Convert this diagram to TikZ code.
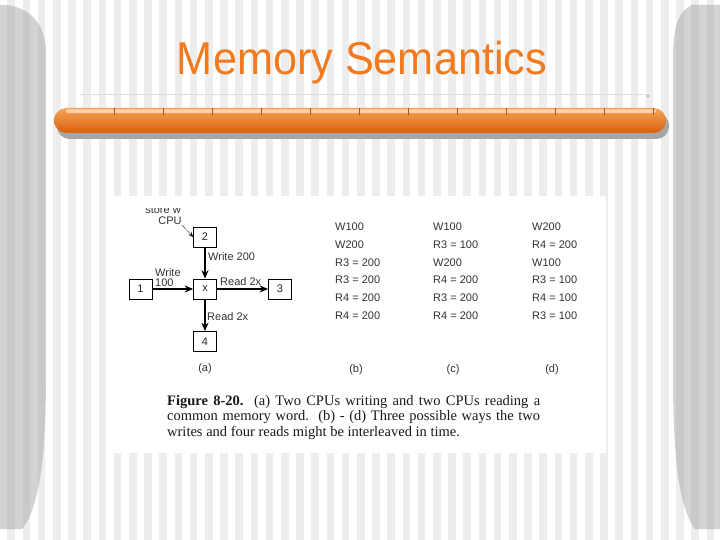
\documentclass[tikz,border=0pt]{standalone}
\usepackage{fontspec}
\setmainfont{Liberation Serif}
\setsansfont{Liberation Sans}
\usetikzlibrary{arrows.meta}
\definecolor{stripe}{HTML}{EDEDED}
\definecolor{curtain}{HTML}{D2D2D2}
\definecolor{curtainstripe}{HTML}{C9C9C9}
\definecolor{titleorange}{HTML}{F27A1E}
\definecolor{barmid}{HTML}{F37A1C}
\definecolor{bartop}{HTML}{F8A458}
\definecolor{barbot}{HTML}{D8600E}
\begin{document}
\begin{tikzpicture}[x=1pt,y=-1pt,
  box/.style={draw=black,line width=0.6pt,minimum width=23pt,minimum height=20pt,inner sep=0pt,font=\sffamily\fontsize{11}{12}\selectfont,text=black!85},
  lbl/.style={font=\sffamily\fontsize{11}{12}\selectfont,text=black!80,inner sep=0pt},
  col/.style={lbl,anchor=west},
  flow/.style={line width=1.8pt,-{Stealth[length=8.5pt,width=7pt]}},
  captext/.style={font=\fontsize{14.5}{15}\selectfont,text=black!90,inner sep=0pt,anchor=base west}]
\useasboundingbox (0,0) rectangle (720,540);
% background stripes
\fill[white] (0,0) rectangle (720,540);
\foreach \i in {0,...,47} \fill[stripe] ({7.4+15.2*\i},0) rectangle ++(7.6,540);
% left curtain
\fill[curtain] (0,5) .. controls (18,4) and (44,14) .. (46,50) -- (46,380) .. controls (46,470) and (36,512) .. (22,529) -- (0,529) -- cycle;
\begin{scope}
\clip (0,5) .. controls (18,4) and (44,14) .. (46,50) -- (46,380) .. controls (46,470) and (36,512) .. (22,529) -- (0,529) -- cycle;
\foreach \i in {0,...,3} \fill[curtainstripe] ({7.4+15.2*\i},0) rectangle ++(7.6,540);
\end{scope}
% right curtain
\fill[curtain] (720,5) -- (692,5) .. controls (677,12) and (673,30) .. (673,60) -- (673,380) .. controls (673,470) and (682,512) .. (695,529) -- (720,529) -- cycle;
\begin{scope}
\clip (720,5) -- (692,5) .. controls (677,12) and (673,30) .. (673,60) -- (673,380) .. controls (673,470) and (682,512) .. (695,529) -- (720,529) -- cycle;
\foreach \i in {44,...,47} \fill[curtainstripe] ({7.4+15.2*\i},0) rectangle ++(7.6,540);
\end{scope}
% title
\node[font=\sffamily\fontsize{46}{46}\selectfont,text=titleorange,anchor=base,inner sep=0pt] (title) at (362,75) {\scalebox{0.94}[1]{Memory Semantics}};
% thin rule and bar
\draw[black!13,line width=1pt] (80,95) -- (648,95);
\fill[black!55] (648,96) circle (0.9);
\fill[black!35,rounded corners=12.5pt] (57,113) rectangle (669,139);
\shade[top color=bartop,middle color=barmid,bottom color=barbot,rounded corners=12.5pt] (54,108) rectangle (666,133);
\fill[white,opacity=0.55,rounded corners=2pt] (66,109.3) rectangle (656,113);
\foreach \k in {0,...,11} \draw[black!30!barmid,line width=0.5pt] ({114+49*\k},108.5) -- ++(0,7);
% figure area
\fill[white] (108,196) rectangle (606,453);
% (a)
\node[box] (n2) at (205,237) {2};
\node[box] (nx) at (205,289) {x};
\node[box] (n1) at (140.5,289) {1};
\node[box] (n3) at (280,289) {3};
\node[box] (n4) at (205,341.5) {4};
\draw[flow] (n2) -- (nx);
\draw[flow] (n1) -- (nx);
\draw[flow] (nx) -- (n3);
\draw[flow] (nx) -- (n4);
\node[lbl,anchor=west] (w200) at (208,257) {Write 200};
\node[lbl,anchor=west] (w1) at (155,272.5) {Write};
\node[lbl,anchor=west] (w2) at (155,283) {100};
\node[lbl,anchor=west] (r3) at (220,282) {Read 2x};
\node[lbl,anchor=west] (r4) at (207,317) {Read 2x};
\node[lbl] (la) at (205,368.5) {(a)};
\node[lbl] (cpu) at (170,221) {CPU};
\begin{scope}
\clip (108,209) rectangle (606,453);
\node[lbl] (store) at (163,209.5) {store w};
\end{scope}
\coordinate (cpuend) at (182,225);
\draw[densely dotted,line width=0.7pt,-{Stealth[length=5pt,width=4pt]}] (cpuend) -- (n2.west);
% (b) (c) (d)
\foreach \t [count=\j] in {W100,W200,R3 = 200,R3 = 200,R4 = 200,R4 = 200}
  \node[col] (b\j) at (335,{209+17.8*\j}) {\t};
\foreach \t [count=\j] in {W100,R3 = 100,W200,R4 = 200,R3 = 200,R4 = 200}
  \node[col] (c\j) at (433,{209+17.8*\j}) {\t};
\foreach \t [count=\j] in {W200,R4 = 200,W100,R3 = 100,R4 = 100,R3 = 100}
  \node[col] (d\j) at (532,{209+17.8*\j}) {\t};
\node[lbl] (lb) at (356,370) {(b)};
\node[lbl] (lc) at (453,370) {(c)};
\node[lbl] (ld) at (552,370) {(d)};
% caption
\node[captext] (cap1) at (167,405) {\makebox[373pt][s]{\textbf{Figure 8-20.}\ \ (a) Two CPUs writing and two CPUs reading a}};
\node[captext] (cap2) at (167,420.5) {\makebox[373pt][s]{common memory word.\ \ (b) - (d) Three possible ways the two}};
\node[captext] (cap3) at (167,436) {writes and four reads might be interleaved in time.};
\end{tikzpicture}
\end{document}
